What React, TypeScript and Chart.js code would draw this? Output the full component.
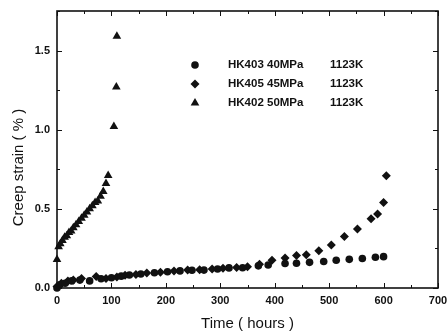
import React, { useEffect, useRef } from 'react';
import { Chart, registerables } from 'chart.js';

Chart.register(...registerables);

// HK403 40MPa 1123K (circles)
const hk403Time = [0, 5, 15, 27, 42, 60, 81, 100, 118, 133, 154, 179, 203, 226, 248, 270, 295, 316, 341, 370, 388, 419, 440, 464, 490, 513, 537, 561, 585, 600];
const hk403Strain = [0.0, 0.02, 0.03, 0.045, 0.05, 0.045, 0.058, 0.065, 0.075, 0.082, 0.088, 0.096, 0.103, 0.108, 0.112, 0.113, 0.12, 0.127, 0.128, 0.14, 0.145, 0.155, 0.156, 0.162, 0.167, 0.175, 0.181, 0.186, 0.194, 0.198];

// HK405 45MPa 1123K (diamonds)
const hk405Time = [0, 8, 20, 30, 45, 72, 90, 110, 125, 145, 165, 190, 215, 240, 262, 285, 305, 330, 350, 372, 395, 419, 440, 458, 481, 504, 528, 552, 577, 589, 600, 605];
const hk405Strain = [0.01, 0.03, 0.045, 0.05, 0.06, 0.072, 0.06, 0.07, 0.08, 0.085, 0.095, 0.1, 0.107, 0.113, 0.115, 0.12, 0.125, 0.13, 0.135, 0.15, 0.175, 0.19, 0.205, 0.21, 0.236, 0.272, 0.325, 0.373, 0.437, 0.468, 0.54, 0.709];

// HK402 50MPa 1123K (triangles)
const hk402Time = [0, 3, 6, 10, 14, 18, 22, 26, 30, 35, 40, 45, 50, 55, 60, 65, 70, 75, 80, 85, 90, 94, 104.5, 109, 110];
const hk402Strain = [0.18, 0.26, 0.28, 0.3, 0.32, 0.33, 0.35, 0.36, 0.38, 0.4, 0.42, 0.44, 0.46, 0.48, 0.5, 0.52, 0.54, 0.55, 0.58, 0.61, 0.66, 0.71, 1.02, 1.27, 1.59];

const xTicks = [0, 100, 200, 300, 400, 500, 600, 700];
const yTicks = [0, 0.5, 1.0, 1.5];
const xMinorStep = 50;
const yMinorStep = 0.25;

const seriesNames = ['HK403', 'HK405', 'HK402'];
const seriesStress = ['40MPa', '45MPa', '50MPa'];
const seriesTemp = ['1123K', '1123K', '1123K'];
const xTitle = 'Time ( hours )';
const yTitle = 'Creep strain ( % )';

const INK = '#111111';
const FONT = "'Liberation Sans', Arial, sans-serif";

function toPoints(xs: number[], ys: number[]) {
  return xs.map((x, i) => ({ x, y: ys[i] }));
}

function drawMarker(ctx: CanvasRenderingContext2D, style: string, x: number, y: number, r: number) {
  ctx.beginPath();
  if (style === 'circle') {
    ctx.arc(x, y, r, 0, Math.PI * 2);
  } else if (style === 'rectRot') {
    ctx.moveTo(x, y - r);
    ctx.lineTo(x + r, y);
    ctx.lineTo(x, y + r);
    ctx.lineTo(x - r, y);
  } else {
    const w = r * 0.866;
    ctx.moveTo(x, y - r);
    ctx.lineTo(x + w, y + r * 0.5);
    ctx.lineTo(x - w, y + r * 0.5);
  }
  ctx.closePath();
  ctx.fill();
}

const framePlugin = {
  id: 'frameTicks',
  afterDraw(chart: any) {
    const { ctx, chartArea } = chart;
    const xs = chart.scales.x;
    const ys = chart.scales.y;
    const { left, right, top, bottom } = chartArea;
    ctx.save();
    ctx.strokeStyle = INK;
    ctx.lineWidth = 1;
    const xMin = xTicks[0];
    const xMax = xTicks[xTicks.length - 1];
    for (let v = xMin; v <= xMax + 1e-9; v += xMinorStep) {
      const major = xTicks.some((t) => Math.abs(t - v) < 1e-9);
      const len = major ? 5 : 3;
      const px = Math.round(xs.getPixelForValue(v)) + 0.5;
      ctx.beginPath();
      ctx.moveTo(px, bottom);
      ctx.lineTo(px, bottom - len);
      ctx.moveTo(px, top);
      ctx.lineTo(px, top + len);
      ctx.stroke();
    }
    for (let v = 0; v <= 1.75 + 1e-9; v += yMinorStep) {
      const major = yTicks.some((t) => Math.abs(t - v) < 1e-9);
      const len = major ? 5 : 3;
      const py = Math.round(ys.getPixelForValue(v)) + 0.5;
      ctx.beginPath();
      ctx.moveTo(left, py);
      ctx.lineTo(left + len, py);
      ctx.moveTo(right, py);
      ctx.lineTo(right - len, py);
      ctx.stroke();
    }
    ctx.lineWidth = 1.6;
    ctx.strokeRect(left, top, right - left, bottom - top);

    // y-axis title, centred slightly below the middle of the plot as in the original
    ctx.save();
    ctx.fillStyle = INK;
    ctx.font = `15px ${FONT}`;
    ctx.textAlign = 'center';
    ctx.textBaseline = 'middle';
    ctx.translate(19, top + (bottom - top) * 0.565);
    ctx.rotate(-Math.PI / 2);
    ctx.fillText(yTitle, 0, 0);
    ctx.restore();
    ctx.restore();
  },
};

const legendPlugin = {
  id: 'insideLegend',
  afterDatasetsDraw(chart: any) {
    const { ctx, chartArea } = chart;
    ctx.save();
    ctx.fillStyle = INK;
    ctx.font = `bold 11.5px ${FONT}`;
    ctx.textBaseline = 'middle';
    ctx.textAlign = 'left';
    const rows = [54, 73, 92];
    chart.data.datasets.forEach((ds: any, i: number) => {
      const y = chartArea.top + rows[i];
      drawMarker(ctx, ds.pointStyle, chartArea.left + 138, y, ds.pointRadius);
      ctx.fillText(seriesNames[i], chartArea.left + 171, y);
      ctx.fillText(seriesStress[i], chartArea.left + 210, y);
      ctx.fillText(seriesTemp[i], chartArea.left + 273, y);
    });
    ctx.restore();
  },
};

export default function App() {
  const ref = useRef<HTMLCanvasElement | null>(null);

  useEffect(() => {
    if (!ref.current) return;
    const chart = new Chart(ref.current, {
      type: 'scatter',
      data: {
        datasets: [
          {
            label: 'HK403 40MPa 1123K',
            data: toPoints(hk403Time, hk403Strain),
            pointStyle: 'circle',
            pointRadius: 3.8,
            backgroundColor: INK,
            borderColor: INK,
            borderWidth: 0,
            clip: false,
          },
          {
            label: 'HK405 45MPa 1123K',
            data: toPoints(hk405Time, hk405Strain),
            pointStyle: 'rectRot',
            pointRadius: 4.5,
            backgroundColor: INK,
            borderColor: INK,
            borderWidth: 0,
            clip: false,
          },
          {
            label: 'HK402 50MPa 1123K',
            data: toPoints(hk402Time, hk402Strain),
            pointStyle: 'triangle',
            pointRadius: 5,
            backgroundColor: INK,
            borderColor: INK,
            borderWidth: 0,
            clip: false,
          },
        ],
      },
      options: {
        responsive: true,
        maintainAspectRatio: false,
        animation: false,
        events: [],
        layout: { padding: { left: 0, right: 10, top: 11, bottom: 0 } },
        plugins: {
          legend: { display: false },
          tooltip: { enabled: false },
        },
        scales: {
          x: {
            type: 'linear',
            min: 0,
            max: 700,
            afterBuildTicks: (s: any) => {
              s.ticks = xTicks.map((v) => ({ value: v }));
            },
            afterFit: (s: any) => {
              s.height = 45;
              s.paddingLeft = 0;
              s.paddingRight = 0;
            },
            grid: { display: false, drawTicks: false },
            border: { display: false },
            ticks: {
              padding: 6,
              color: INK,
              font: { family: FONT, size: 11, weight: 'bold' },
              maxRotation: 0,
              autoSkip: false,
            },
            title: {
              display: true,
              text: xTitle,
              color: INK,
              font: { family: FONT, size: 15 },
              padding: { top: 0, bottom: 0 },
            },
          },
          y: {
            type: 'linear',
            min: 0,
            max: 1.75,
            afterBuildTicks: (s: any) => {
              s.ticks = yTicks.map((v) => ({ value: v }));
            },
            afterFit: (s: any) => {
              s.width = 57;
              s.paddingTop = 0;
              s.paddingBottom = 0;
            },
            grid: { display: false, drawTicks: false },
            border: { display: false },
            ticks: {
              padding: 7,
              color: INK,
              font: { family: FONT, size: 11, weight: 'bold' },
              callback: (v: any) => Number(v).toFixed(1),
            },
            title: { display: false },
          },
        },
      },
      plugins: [framePlugin, legendPlugin],
    } as any);
    return () => chart.destroy();
  }, []);

  return (
    <div style={{ position: 'absolute', left: 0, top: 0, width: 448, height: 333, background: '#fff' }}>
      <canvas ref={ref} />
    </div>
  );
}
